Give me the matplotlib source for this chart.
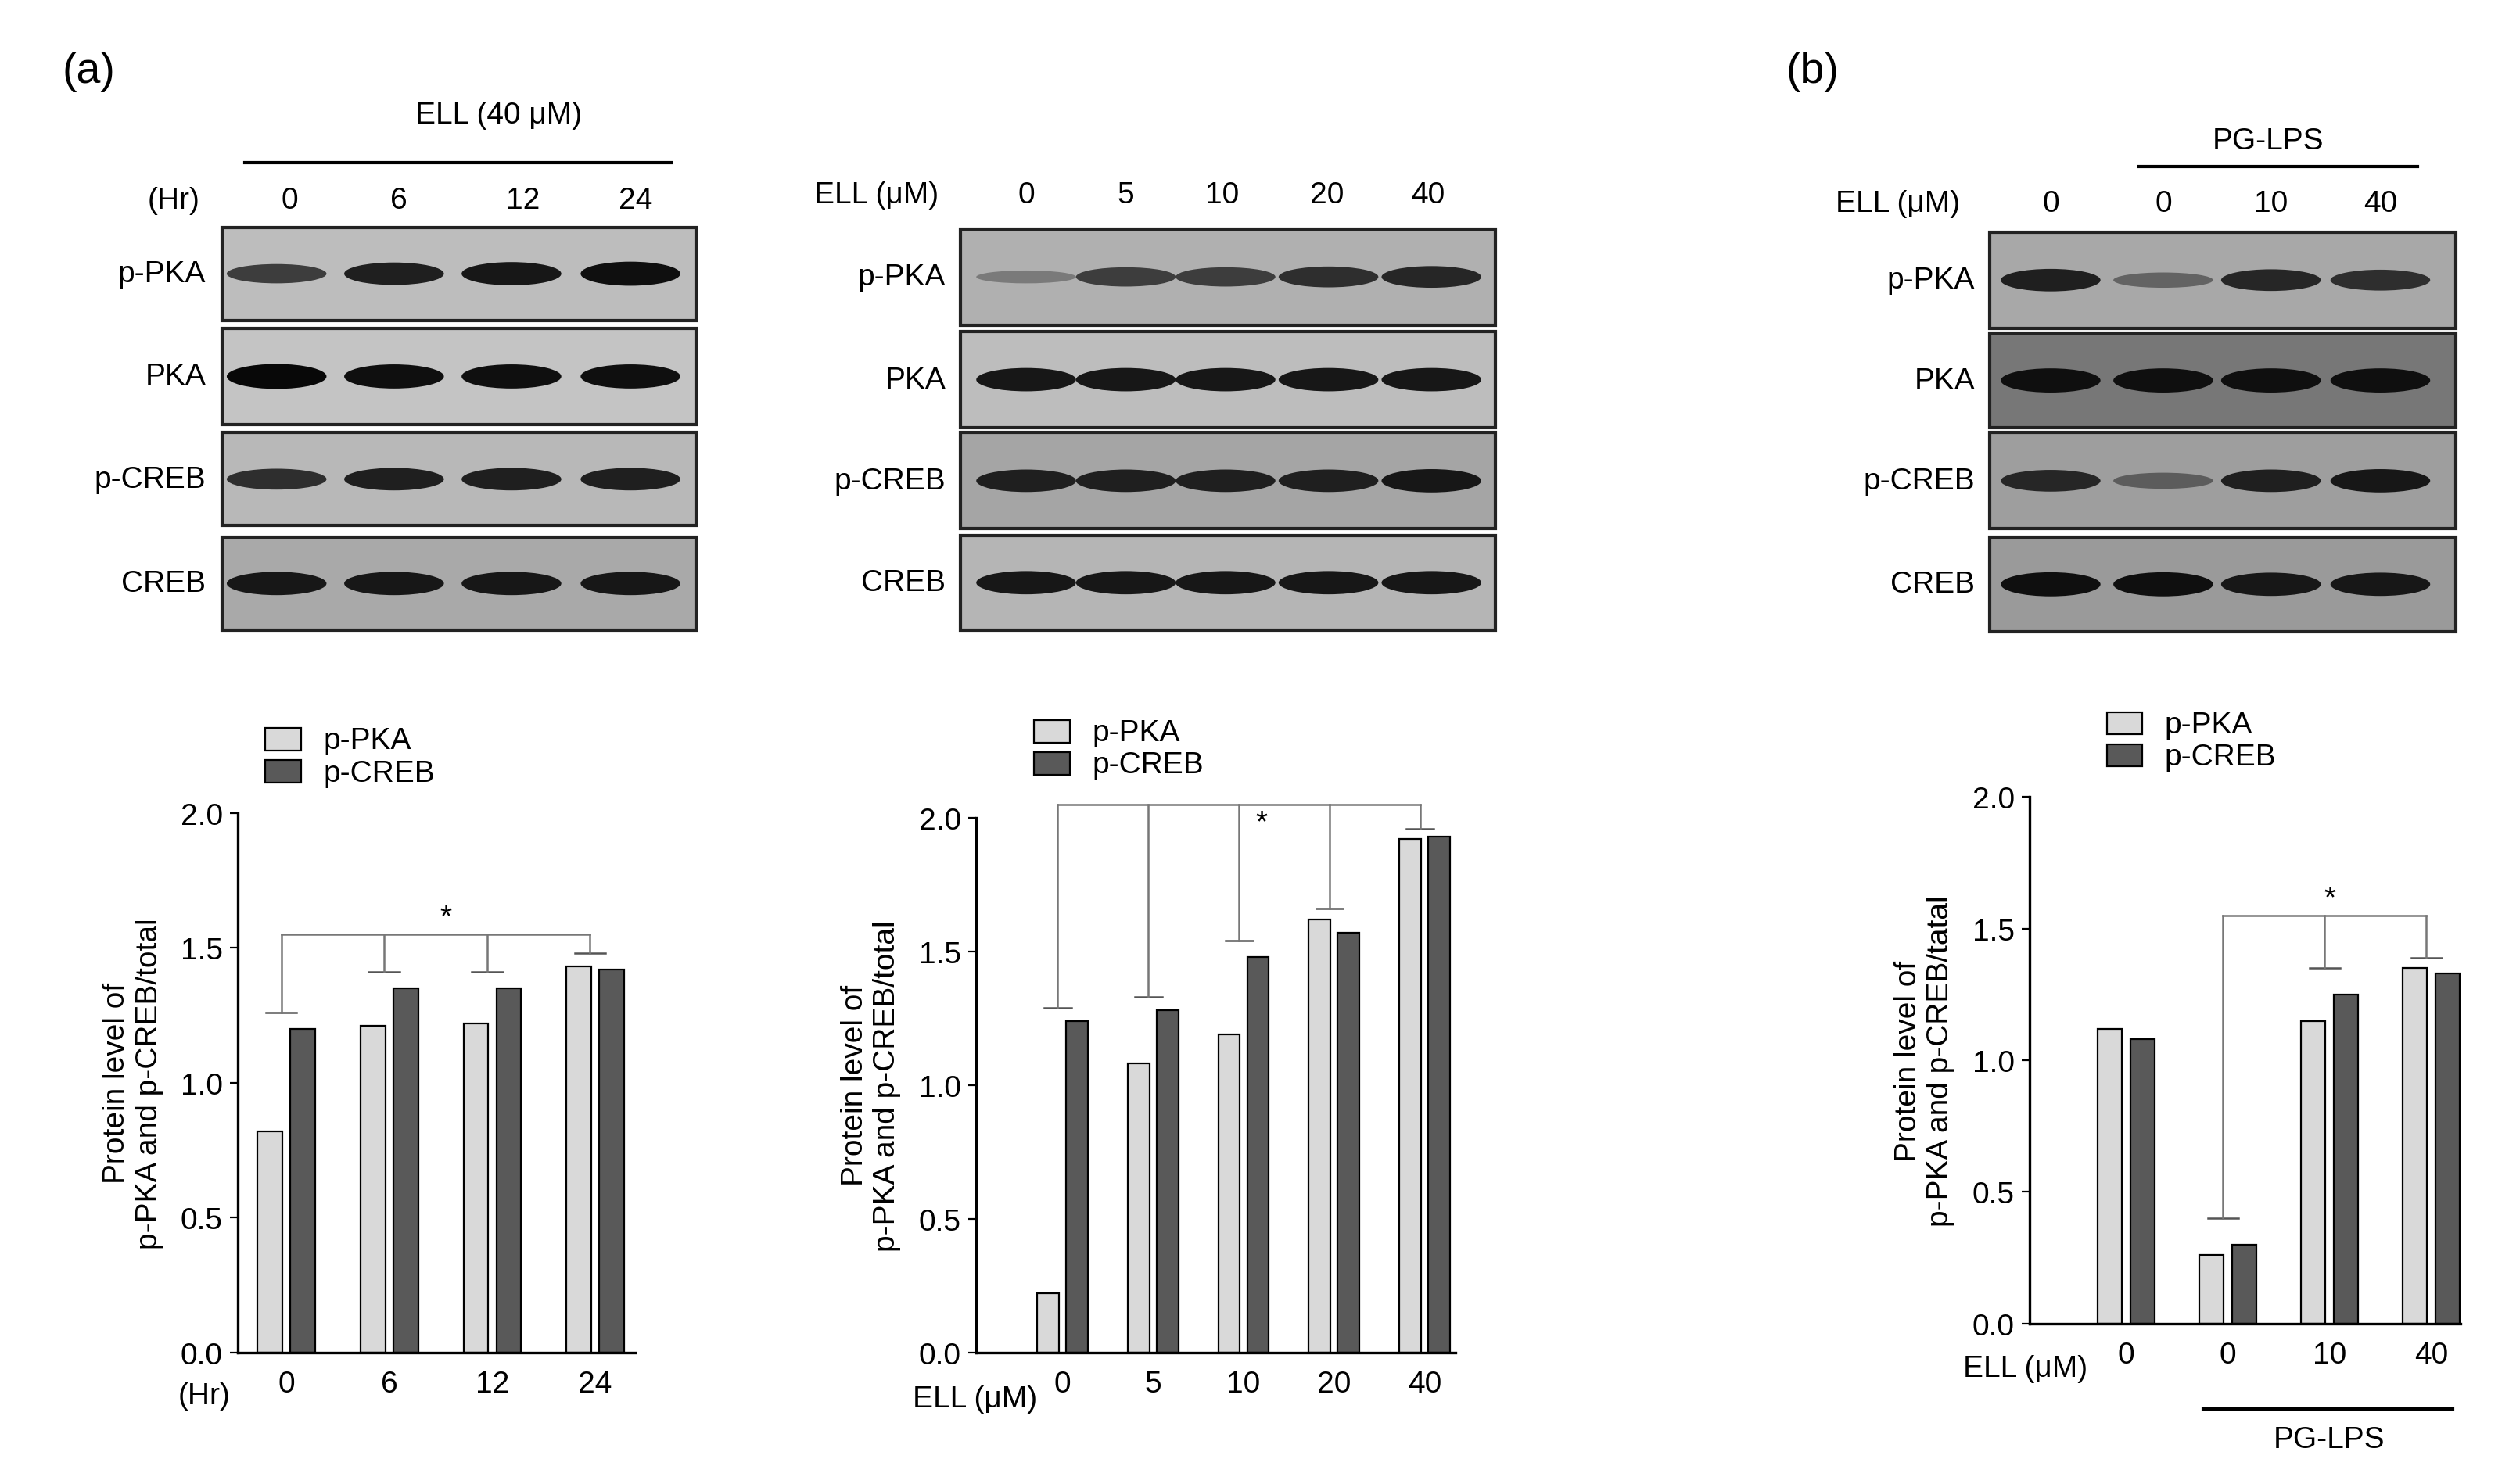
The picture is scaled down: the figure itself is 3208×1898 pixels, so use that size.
import numpy as np
import matplotlib; matplotlib.use("Agg")
import matplotlib.pyplot as plt
from matplotlib.patches import Rectangle, Ellipse

plt.rcParams["font.family"] = ["Liberation Sans", "DejaVu Sans"]
W, H = 1560, 925  # layout units (reference at half scale)

# ---- quantification data ----
hr_labels = ["0", "6", "12", "24"]
hr_pka = [0.82, 1.21, 1.22, 1.43]
hr_creb = [1.20, 1.35, 1.35, 1.42]
hr_err = [1.26, 1.41, 1.41, 1.48]

dose_labels = ["0", "5", "10", "20", "40"]
dose_pka = [0.22, 1.08, 1.19, 1.62, 1.92]
dose_creb = [1.24, 1.28, 1.48, 1.57, 1.93]
dose_err = [1.29, 1.33, 1.54, 1.66, 1.96]

lps_labels = ["0", "0", "10", "40"]
lps_pka = [1.12, 0.26, 1.15, 1.35]
lps_creb = [1.08, 0.30, 1.25, 1.33]
lps_err = [None, 0.40, 1.35, 1.39]

# ---- blot band intensities (0..1) per row: p-PKA, PKA, p-CREB, CREB ----
rows = ["p-PKA", "PKA", "p-CREB", "CREB"]
blot_hr = [[0.6, 0.8, 0.85, 0.9], [0.95, 0.9, 0.9, 0.9], [0.7, 0.8, 0.8, 0.8], [0.85, 0.85, 0.85, 0.85]]
blot_dose = [[0.2, 0.6, 0.6, 0.7, 0.75], [0.85, 0.85, 0.85, 0.85, 0.85], [0.8, 0.8, 0.8, 0.8, 0.85], [0.85, 0.85, 0.85, 0.85, 0.85]]
blot_lps = [[0.8, 0.35, 0.75, 0.7], [0.9, 0.9, 0.9, 0.9], [0.75, 0.4, 0.8, 0.85], [0.9, 0.9, 0.85, 0.85]]

fig = plt.figure(figsize=(16.04, 9.495), dpi=200)
ov = fig.add_axes([0, 0, 1, 1]); ov.set_xlim(0, W); ov.set_ylim(H, 0); ov.axis("off")
FS = 14

def blot(x0, x1, ys, lanes, data, bg):
    for (ya, yb), vals, b in zip(ys, data, bg):
        ov.add_patch(Rectangle((x0, ya), x1 - x0, yb - ya, facecolor=b, edgecolor="#222", lw=1.5))
        for lx, v in zip(lanes, vals):
            g = 1 - v
            ov.add_patch(Ellipse((lx, (ya + yb) / 2), 62, 6 + 10 * v, facecolor=(g*0.6, g*0.6, g*0.6), edgecolor="none"))

rowy = lambda ys: [(ya + yb) / 2 for ya, yb in ys]

# panel a1
ys1 = [(142, 200), (205, 265), (270, 328), (335, 393)]
lanes1 = [172, 245, 318, 392]
blot(138, 433, ys1, lanes1, blot_hr, ["#bdbdbd", "#c4c4c4", "#b8b8b8", "#a9a9a9"])
for r, y in zip(rows, rowy(ys1)): ov.text(128, y, r, ha="right", va="center", fontsize=FS)
ov.text(310, 72, "ELL (40 μM)", ha="center", va="center", fontsize=FS)
ov.plot([152, 417], [102, 102], color="k", lw=1.5)
ov.text(108, 125, "(Hr)", ha="center", va="center", fontsize=FS)
for l, x in zip(hr_labels, [180, 248, 325, 395]): ov.text(x, 125, l, ha="center", va="center", fontsize=FS)

# panel a2
ys2 = [(143, 203), (207, 267), (270, 330), (334, 393)]
lanes2 = [638, 700, 762, 826, 890]
blot(597, 930, ys2, lanes2, blot_dose, ["#b0b0b0", "#bdbdbd", "#a5a5a5", "#b5b5b5"])
for r, y in zip(rows, rowy(ys2)): ov.text(588, y, r, ha="right", va="center", fontsize=FS)
ov.text(545, 122, "ELL (μM)", ha="center", va="center", fontsize=FS)
for l, x in zip(dose_labels, [638, 700, 760, 825, 888]): ov.text(x, 122, l, ha="center", va="center", fontsize=FS)

# panel b
ys3 = [(145, 205), (208, 267), (270, 330), (335, 394)]
lanes3 = [1275, 1345, 1412, 1480]
blot(1237, 1527, ys3, lanes3, blot_lps, ["#a8a8a8", "#777777", "#9e9e9e", "#9a9a9a"])
for r, y in zip(rows, rowy(ys3)): ov.text(1228, y, r, ha="right", va="center", fontsize=FS)
ov.text(1410, 88, "PG-LPS", ha="center", va="center", fontsize=FS)
ov.plot([1330, 1503], [104, 104], color="k", lw=1.5)
ov.text(1180, 127, "ELL (μM)", ha="center", va="center", fontsize=FS)
for l, x in zip(lps_labels, [1275, 1345, 1412, 1480]): ov.text(x, 127, l, ha="center", va="center", fontsize=FS)

ov.text(55, 45, "(a)", ha="center", va="center", fontsize=20)
ov.text(1127, 45, "(b)", ha="center", va="center", fontsize=20)

def chart(box, labels, pka, creb, err, xlim, xlab, xlab_xy, ylab, leg_xy):
    x0, y0, x1, y1 = box
    ax = fig.add_axes([x0 / W, 1 - y1 / H, (x1 - x0) / W, (y1 - y0) / H])
    x = np.arange(len(labels))
    ax.bar(x - 0.16, pka, 0.24, color="#d9d9d9", edgecolor="k", lw=0.8)
    ax.bar(x + 0.16, creb, 0.24, color="#595959", edgecolor="k", lw=0.8)
    ax.set_xlim(*xlim); ax.set_ylim(0, 2.0)
    ax.set_yticks([0, 0.5, 1.0, 1.5, 2.0]); ax.set_yticklabels(["0.0", "0.5", "1.0", "1.5", "2.0"], fontsize=FS)
    ax.set_xticks(x); ax.set_xticklabels(labels, fontsize=FS)
    ax.tick_params(axis="x", length=0, pad=8)
    for s in ["top", "right"]: ax.spines[s].set_visible(False)
    ax.spines["left"].set_linewidth(1.2); ax.spines["bottom"].set_linewidth(1.2)
    ax.set_ylabel(ylab, fontsize=FS, labelpad=8)
    ov.text(xlab_xy[0], xlab_xy[1], xlab, ha="right", va="center", fontsize=FS)
    lx, ly = leg_xy
    for i, (c, t) in enumerate([("#d9d9d9", "p-PKA"), ("#595959", "p-CREB")]):
        ov.add_patch(Rectangle((lx, ly - 8 + 20 * i), 22, 14, facecolor=c, edgecolor="k", lw=0.8))
        ov.text(lx + 36, ly + 20 * i, t, va="center", fontsize=FS)
    return ax, x

def sig(ax, x, err, idx, top, star_x, star_y):
    for i in idx:
        xi = x[i] - 0.05
        ax.plot([xi - 0.15, xi + 0.15], [err[i], err[i]], color="#555", lw=0.9, clip_on=False)
        ax.plot([xi, xi], [err[i], top], color="#777", lw=0.9, clip_on=False)
    ax.plot([x[idx[0]] - 0.05, x[idx[-1]] - 0.05], [top, top], color="#777", lw=0.9, clip_on=False)
    ax.text(star_x, star_y, "*", ha="center", va="bottom", fontsize=FS)

yl = "Protein level of\np-PKA and p-CREB/total"
ax1, x1 = chart((148, 507, 395, 843), hr_labels, hr_pka, hr_creb, hr_err, (-0.47, 3.39),
                "(Hr)", (143, 870), yl, (165, 462))
sig(ax1, x1, hr_err, [0, 1, 2, 3], 1.55, 1.55, 1.56)
ax2, x2 = chart((607, 510, 905, 843), dose_labels, dose_pka, dose_creb, dose_err, (-0.95, 4.34),
                "ELL (μM)", (645, 872), yl, (643, 457))
sig(ax2, x2, dose_err, [0, 1, 2, 3, 4], 2.05, 2.2, 1.93)
ax3, x3 = chart((1262, 497, 1530, 825), lps_labels, lps_pka, lps_creb, lps_err, (-0.95, 3.29),
                "ELL (μM)", (1298, 853), "Protein level of\np-PKA and p-CREB/tatal", (1310, 452))
sig(ax3, x3, lps_err, [1, 2, 3], 1.55, 2.0, 1.56)
ov.plot([1370, 1525], [878, 878], color="k", lw=1.5)
ov.text(1448, 897, "PG-LPS", ha="center", va="center", fontsize=FS)

fig.savefig("out.png", dpi=200)
